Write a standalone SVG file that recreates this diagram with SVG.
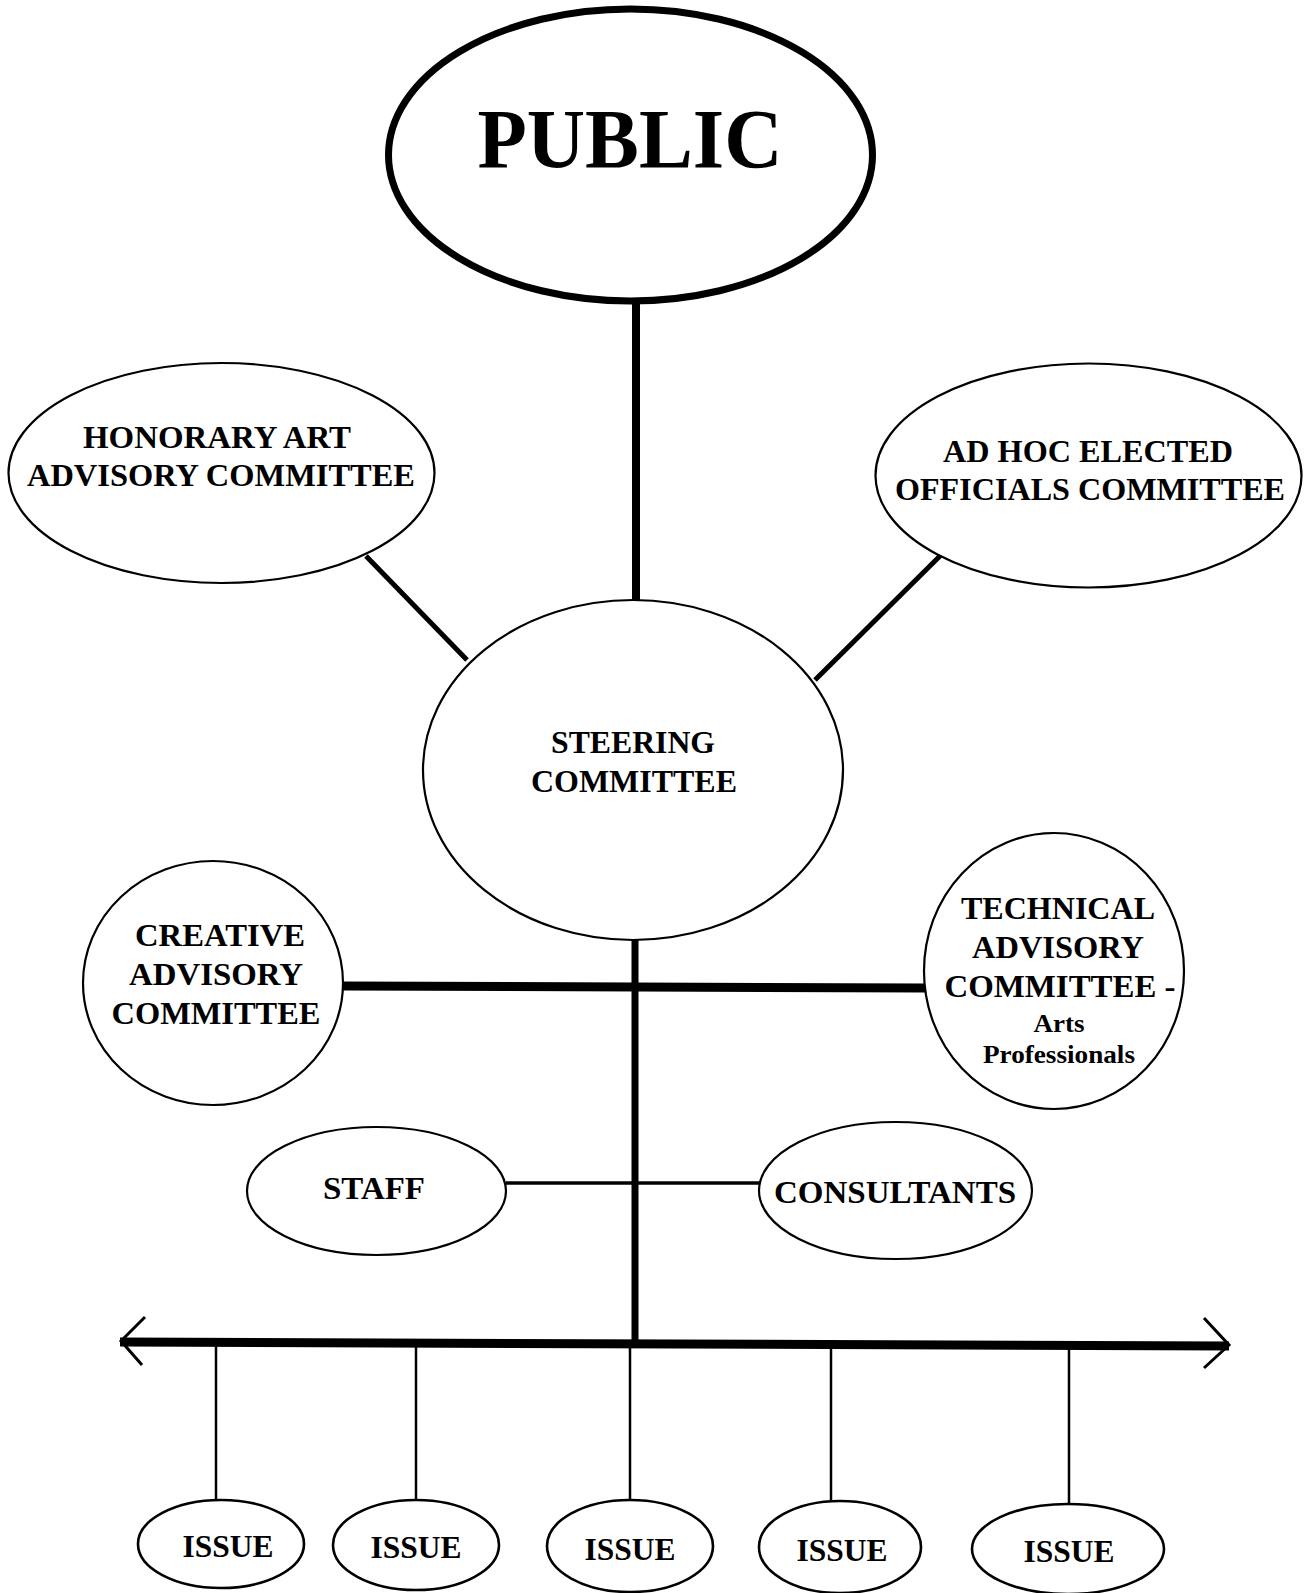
<svg xmlns="http://www.w3.org/2000/svg" width="1306" height="1593" viewBox="0 0 1306 1593">
<style>
.node{fill:#fff;stroke:#000;stroke-width:2.2}
.thick{fill:#fff;stroke:#000;stroke-width:7}
.issue{fill:#fff;stroke:#000;stroke-width:2.6}
.t{font-family:"Liberation Serif","Times New Roman",serif;font-weight:bold;font-size:32px;text-anchor:middle;fill:#000}
.s{font-size:26px}
.big{font-size:84px}
.c{stroke:#000;fill:none}
</style>
<rect width="1306" height="1593" fill="#fff"/>
<g id="connectors">
<line class="c" x1="636" y1="300" x2="636" y2="602" stroke-width="8"/>
<line class="c" x1="366" y1="556" x2="467" y2="660" stroke-width="5"/>
<line class="c" x1="943" y1="553" x2="815" y2="680" stroke-width="5"/>
<line class="c" x1="635" y1="938" x2="635" y2="1344" stroke-width="7"/>
<line class="c" x1="342" y1="986" x2="925" y2="988" stroke-width="9"/>
<line class="c" x1="506" y1="1183" x2="760" y2="1183" stroke-width="3.5"/>
<line class="c" x1="120" y1="1342" x2="1229" y2="1346" stroke-width="9"/>
<polyline class="c" points="145,1317 121,1341 142,1365" stroke-width="3"/>
<polyline class="c" points="1204,1318 1229,1345 1204,1368" stroke-width="3"/>
<line class="c" x1="216" y1="1344" x2="216" y2="1501" stroke-width="2.5"/>
<line class="c" x1="416" y1="1344" x2="416" y2="1500" stroke-width="2.5"/>
<line class="c" x1="630" y1="1344" x2="630" y2="1500" stroke-width="2.5"/>
<line class="c" x1="831" y1="1344" x2="831" y2="1501" stroke-width="2.5"/>
<line class="c" x1="1069" y1="1346" x2="1069" y2="1503" stroke-width="2.5"/>
</g>
<g id="public">
<ellipse class="thick" cx="630.5" cy="155" rx="242" ry="146"/>
<text class="t big" x="630" y="168" textLength="305" lengthAdjust="spacingAndGlyphs">PUBLIC</text>
</g>
<g id="honorary">
<ellipse class="node" cx="221.5" cy="473" rx="213" ry="110"/>
<text class="t" x="217" y="448" textLength="268" lengthAdjust="spacingAndGlyphs">HONORARY ART</text>
<text class="t" x="221" y="486" textLength="388" lengthAdjust="spacingAndGlyphs">ADVISORY COMMITTEE</text>
</g>
<g id="adhoc">
<ellipse class="node" cx="1088.5" cy="475.5" rx="213" ry="112"/>
<text class="t" x="1088" y="462" textLength="290" lengthAdjust="spacingAndGlyphs">AD HOC ELECTED</text>
<text class="t" x="1090" y="500" textLength="390" lengthAdjust="spacingAndGlyphs">OFFICIALS COMMITTEE</text>
</g>
<g id="steering">
<ellipse class="node" cx="633" cy="770" rx="210" ry="170"/>
<text class="t" x="633" y="753" textLength="164" lengthAdjust="spacingAndGlyphs">STEERING</text>
<text class="t" x="634" y="792" textLength="206" lengthAdjust="spacingAndGlyphs">COMMITTEE</text>
</g>
<g id="creative">
<ellipse class="node" cx="213" cy="983" rx="130" ry="122"/>
<text class="t" x="220" y="946" textLength="170" lengthAdjust="spacingAndGlyphs">CREATIVE</text>
<text class="t" x="216" y="985" textLength="174" lengthAdjust="spacingAndGlyphs">ADVISORY</text>
<text class="t" x="216" y="1024" textLength="209" lengthAdjust="spacingAndGlyphs">COMMITTEE</text>
</g>
<g id="technical">
<ellipse class="node" cx="1054" cy="971" rx="130" ry="138"/>
<text class="t" x="1058" y="919" textLength="194" lengthAdjust="spacingAndGlyphs">TECHNICAL</text>
<text class="t" x="1058" y="958" textLength="172" lengthAdjust="spacingAndGlyphs">ADVISORY</text>
<text class="t" x="1060" y="997" textLength="231" lengthAdjust="spacingAndGlyphs">COMMITTEE -</text>
<text class="t s" x="1059" y="1032" textLength="51" lengthAdjust="spacingAndGlyphs">Arts</text>
<text class="t s" x="1059" y="1063" textLength="152" lengthAdjust="spacingAndGlyphs">Professionals</text>
</g>
<g id="staff">
<ellipse class="node" cx="376.5" cy="1191" rx="129.5" ry="64"/>
<text class="t" x="374" y="1199" textLength="102" lengthAdjust="spacingAndGlyphs">STAFF</text>
</g>
<g id="consultants">
<ellipse class="node" cx="895.5" cy="1190.5" rx="136.5" ry="68.5"/>
<text class="t" x="895" y="1203" textLength="242" lengthAdjust="spacingAndGlyphs">CONSULTANTS</text>
</g>
<g id="issue1">
<ellipse class="issue" cx="221" cy="1544" rx="83" ry="44"/>
<text class="t" x="228" y="1557" textLength="91" lengthAdjust="spacingAndGlyphs">ISSUE</text>
</g>
<g id="issue2">
<ellipse class="issue" cx="416" cy="1545" rx="83" ry="45"/>
<text class="t" x="416" y="1558" textLength="91" lengthAdjust="spacingAndGlyphs">ISSUE</text>
</g>
<g id="issue3">
<ellipse class="issue" cx="630" cy="1546" rx="83" ry="46"/>
<text class="t" x="630" y="1560" textLength="91" lengthAdjust="spacingAndGlyphs">ISSUE</text>
</g>
<g id="issue4">
<ellipse class="issue" cx="840" cy="1547" rx="81" ry="46"/>
<text class="t" x="842" y="1561" textLength="91" lengthAdjust="spacingAndGlyphs">ISSUE</text>
</g>
<g id="issue5">
<ellipse class="issue" cx="1068" cy="1549" rx="96" ry="45"/>
<text class="t" x="1069" y="1562" textLength="91" lengthAdjust="spacingAndGlyphs">ISSUE</text>
</g>
</svg>
